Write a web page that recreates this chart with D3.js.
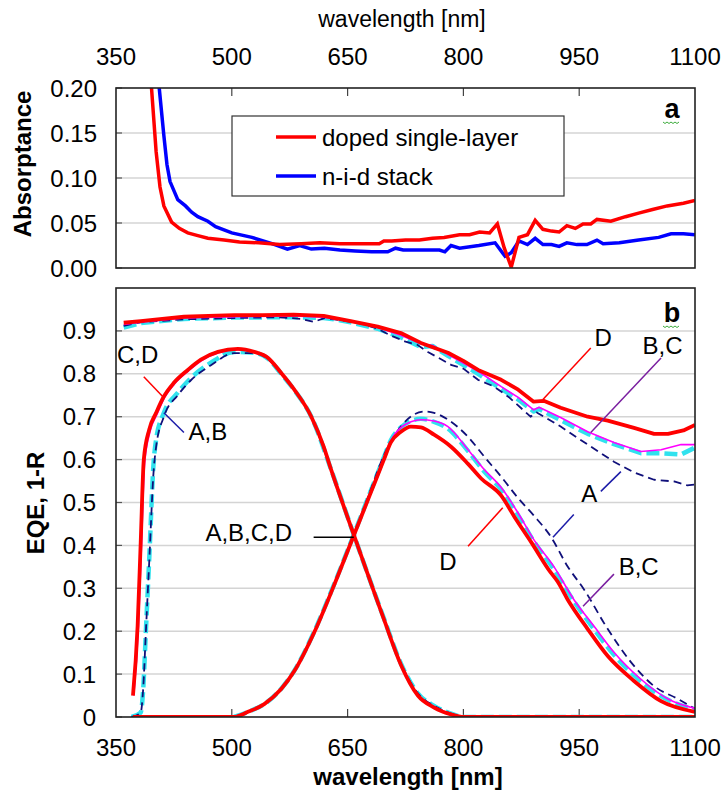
<!DOCTYPE html>
<html>
<head>
<meta charset="utf-8">
<script src="https://cdn.jsdelivr.net/npm/d3@7"></script>
<style>
  body { margin: 0; background: #fff; }
  svg { display: block; font-family: "Liberation Sans", Arial, sans-serif; }
  .tick-lbl { font-size: 24px; fill: #000; }
  .ann { font-size: 24px; fill: #000; }
</style>
</head>
<body>
<svg id="chart" width="723" height="792"></svg>
<script>
// x ticks shared by both panels
const wlTicks = [350, 500, 650, 800, 950, 1100];
const absTicks = [0, 0.05, 0.10, 0.15, 0.20];
const eqeTicks = [0, 0.1, 0.2, 0.3, 0.4, 0.5, 0.6, 0.7, 0.8, 0.9];

// panel a: absorptance [wavelength, value]
const absDoped = [[392,0.26],[396,0.20],[402,0.129],[407,0.09],[412,0.069],[422,0.051],[432,0.044],[443,0.039],[456,0.036],
  [469,0.033],[490,0.031],[510,0.029],[535,0.028],[562,0.026],[590,0.027],[614,0.028],[640,0.027],[660,0.027],[691,0.027],
  [697,0.030],[707,0.030],[725,0.031],[743,0.031],[760,0.033],[775,0.034],[795,0.037],[808,0.037],[821,0.040],[834,0.039],
  [844,0.049],[853,0.022],[862,0.001],[872,0.034],[883,0.037],[893,0.053],[903,0.043],[914,0.041],[924,0.040],[934,0.047],
  [945,0.044],[955,0.049],[965,0.049],[973,0.054],[991,0.052],[1010,0.057],[1027,0.061],[1045,0.065],[1064,0.069],
  [1085,0.072],[1100,0.075]];
const absStack = [[402,0.26],[406,0.20],[412,0.147],[416,0.115],[420,0.096],[430,0.076],[440,0.069],[448,0.062],[456,0.057],
  [469,0.052],[479,0.046],[500,0.039],[526,0.034],[552,0.027],[572,0.021],[588,0.025],[603,0.021],[620,0.022],[640,0.020],
  [660,0.019],[681,0.018],[702,0.018],[712,0.022],[722,0.020],[745,0.020],[769,0.020],[776,0.018],[784,0.025],[795,0.022],
  [820,0.025],[841,0.028],[854,0.013],[862,0.017],[872,0.030],[883,0.026],[893,0.033],[903,0.026],[914,0.026],[924,0.024],
  [934,0.028],[947,0.026],[960,0.026],[973,0.031],[981,0.027],[1002,0.028],[1027,0.031],[1053,0.034],[1069,0.038],
  [1085,0.038],[1100,0.037]];

// panel b: 1-R curves
const refD = [[360,0.919],[382,0.923],[410,0.928],[438,0.933],[470,0.935],[503,0.937],[540,0.937],[580,0.938],[619,0.935],
  [654,0.923],[689,0.91],[719,0.895],[745,0.872],[780,0.849],[800,0.83],[819,0.809],[849,0.786],[871,0.763],[891,0.735],
  [904,0.737],[926,0.721],[961,0.700],[987,0.691],[1021,0.674],[1047,0.660],[1065,0.660],[1085,0.668],[1100,0.681]];
const refC = [[360,0.915],[382,0.92],[438,0.93],[503,0.933],[580,0.935],[619,0.932],[654,0.922],[689,0.908],[719,0.89],
  [745,0.87],[760,0.866],[780,0.845],[819,0.806],[849,0.77],[871,0.745],[891,0.716],[898,0.722],[926,0.698],[961,0.665],
  [995,0.64],[1030,0.619],[1056,0.623],[1082,0.635],[1100,0.635]];
const refB = [[360,0.908],[382,0.918],[438,0.928],[503,0.931],[580,0.932],[619,0.93],[640,0.925],[654,0.92],[689,0.905],
  [719,0.885],[745,0.862],[760,0.865],[780,0.842],[819,0.80],[849,0.765],[871,0.74],[891,0.712],[898,0.718],[926,0.692],
  [961,0.66],[995,0.636],[1030,0.615],[1056,0.615],[1082,0.612],[1100,0.628]];
const refA = [[360,0.912],[382,0.92],[438,0.927],[503,0.93],[560,0.932],[590,0.928],[606,0.921],[620,0.93],[640,0.925],
  [665,0.918],[689,0.905],[705,0.89],[725,0.875],[740,0.868],[754,0.851],[770,0.835],[785,0.82],[800,0.812],[819,0.786],
  [840,0.77],[860,0.744],[887,0.70],[895,0.71],[926,0.677],[961,0.635],[995,0.595],[1021,0.57],[1047,0.553],[1073,0.549],
  [1090,0.54],[1100,0.542]];

// panel b: EQE of top (a-Si) and bottom (uc-Si) cells
const topD = [[372,0.05],[378,0.212],[382,0.407],[386,0.6],[393,0.67],[402,0.709],[412,0.747],[425,0.779],[443,0.809],
  [460,0.833],[482,0.851],[508,0.858],[529,0.851],[547,0.837],[564,0.802],[581,0.763],[603,0.70],[619,0.63],[628,0.58],
  [658,0.425],[697,0.228],[719,0.122],[741,0.05],[762,0.022],[784,0.006],[801,0.0],[1100,0.0]];
const topC = [[373,0.05],[379,0.21],[383,0.40],[387,0.59],[394,0.665],[403,0.705],[413,0.745],[426,0.777],[444,0.807],
  [461,0.831],[483,0.849],[508,0.856],[529,0.85],[547,0.836],[564,0.801],[581,0.762],[603,0.70],[619,0.63],[628,0.58],
  [658,0.424],[697,0.228],[719,0.124],[741,0.052],[762,0.024],[784,0.007],[801,0.0],[1100,0.0]];
const topB = [[370,0],[382,0.01],[385,0.058],[389,0.212],[393,0.367],[399,0.6],[402,0.647],[412,0.709],[430,0.756],
  [447,0.79],[473,0.826],[503,0.851],[529,0.849],[547,0.835],[564,0.80],[581,0.762],[603,0.70],[628,0.58],[658,0.425],
  [697,0.23],[719,0.125],[741,0.055],[762,0.026],[784,0.008],[801,0],[1100,0]];
const topA = [[370,0],[382,0.01],[385,0.06],[389,0.21],[393,0.36],[399,0.58],[402,0.63],[412,0.70],[430,0.75],[447,0.785],
  [473,0.82],[503,0.848],[529,0.848],[547,0.834],[564,0.80],[581,0.762],[603,0.70],[628,0.58],[658,0.425],[697,0.23],
  [719,0.125],[741,0.055],[762,0.026],[784,0.008],[801,0],[1100,0]];

const botD = [[372,0],[503,0.0],[521,0.012],[542,0.03],[564,0.065],[581,0.107],[607,0.198],[632,0.305],[658,0.423],
  [680,0.523],[697,0.60],[706,0.64],[719,0.665],[732,0.677],[745,0.675],[762,0.658],[784,0.63],[806,0.59],[823,0.556],
  [849,0.516],[866,0.467],[888,0.407],[913,0.337],[922,0.316],[935,0.274],[961,0.205],[987,0.142],[1021,0.084],
  [1056,0.037],[1100,0.012]];
const botC = [[503,0],[521,0.012],[542,0.03],[564,0.066],[581,0.108],[607,0.2],[632,0.307],[658,0.425],[680,0.527],
  [697,0.605],[706,0.645],[719,0.675],[732,0.688],[745,0.693],[762,0.69],[780,0.677],[806,0.623],[827,0.577],[849,0.535],
  [871,0.475],[891,0.414],[917,0.351],[943,0.274],[969,0.212],[995,0.151],[1030,0.088],[1065,0.042],[1100,0.02]];
const botB = [[503,0],[521,0.012],[542,0.03],[564,0.066],[581,0.108],[607,0.2],[632,0.307],[658,0.425],[680,0.527],
  [697,0.605],[706,0.645],[719,0.675],[732,0.69],[745,0.695],[762,0.688],[780,0.672],[806,0.62],[827,0.572],[849,0.53],
  [871,0.47],[891,0.41],[917,0.345],[943,0.27],[969,0.205],[995,0.145],[1030,0.083],[1065,0.04],[1100,0.018]];
const botA = [[503,0],[521,0.012],[542,0.03],[564,0.066],[581,0.108],[607,0.2],[632,0.307],[658,0.425],[680,0.53],
  [697,0.61],[719,0.677],[736,0.705],[750,0.712],[762,0.709],[780,0.693],[806,0.653],[827,0.607],[849,0.56],[871,0.51],
  [891,0.47],[913,0.421],[935,0.351],[956,0.298],[987,0.205],[1017,0.128],[1047,0.072],[1078,0.042],[1100,0.019]];

// annotations: label, text position, leader lines (data coords)
const labels = [
  { text: 'C,D', at: [378, 0.844], lines: [[[386, 0.793], [412, 0.744]]], color: '#ff0000' },
  { text: 'A,B', at: [469, 0.665], lines: [[[412, 0.709], [438, 0.663]]], color: '#1c1ca8' },
  { text: 'A,B,C,D', at: [522, 0.43], lines: [[[606, 0.419], [658, 0.419]]], color: '#000000' },
  { text: 'D', at: [981, 0.884], lines: [[[965, 0.86], [903, 0.74]]], color: '#ff0000' },
  { text: 'B,C', at: [1058, 0.867], lines: [[[1056, 0.837], [965, 0.663]]], color: '#7a1fa0' },
  { text: 'A', at: [963, 0.521], lines: [[[978, 0.526], [1004, 0.572]], [[943, 0.472], [916, 0.419]]], color: '#1c1ca8' },
  { text: 'D', at: [780, 0.363], lines: [[[806, 0.398], [851, 0.488]]], color: '#ff0000' },
  { text: 'B,C', at: [1027, 0.351], lines: [[[995, 0.333], [955, 0.258]]], color: '#7a1fa0' },
];

const svg = d3.select('#chart');
const L = 116, R = 695;
const x = d3.scaleLinear().domain([350, 1100]).range([L, R]);
const yA = d3.scaleLinear().domain([0, 0.2]).range([268, 88]);
const yB = d3.scaleLinear().domain([0, 1]).range([717, 288]);

function panel(y, ticks, id) {
  const [y0, y1] = y.range();
  svg.append('clipPath').attr('id', id).append('rect')
    .attr('x', L).attr('y', y1).attr('width', R - L).attr('height', y0 - y1);
  const g = svg.append('g');
  g.selectAll('.grid').data(ticks.filter(t => t > 0 && y(t) > y1 + 1)).join('line')
    .attr('x1', L).attr('x2', R).attr('y1', d => y(d)).attr('y2', d => y(d))
    .attr('stroke', '#d4d4d4').attr('stroke-width', 1.5);
  g.selectAll('.ytk').data(ticks).join('line')
    .attr('x1', L).attr('x2', L + 6).attr('y1', d => y(d)).attr('y2', d => y(d))
    .attr('stroke', '#555').attr('stroke-width', 1.2);
  return g;
}

const gA = panel(yA, absTicks, 'clipA');
const gB = panel(yB, eqeTicks, 'clipB');

// inner x ticks
gA.selectAll('.xt').data(wlTicks.slice(1, -1)).join('line')
  .attr('x1', d => x(d)).attr('x2', d => x(d)).attr('y1', 88).attr('y2', 96)
  .attr('stroke', '#444').attr('stroke-width', 1.2);
gB.selectAll('.xt').data(wlTicks.slice(1, -1)).join('line')
  .attr('x1', d => x(d)).attr('x2', d => x(d)).attr('y1', 717).attr('y2', 709)
  .attr('stroke', '#444').attr('stroke-width', 1.2);

const lineA = d3.line().x(d => x(d[0])).y(d => yA(d[1]));
const lineB = d3.line().x(d => x(d[0])).y(d => yB(d[1]));
const smoothB = d3.line().x(d => x(d[0])).y(d => yB(d[1])).curve(d3.curveMonotoneX);

const pa = svg.append('g').attr('clip-path', 'url(#clipA)');
pa.append('path').attr('d', lineA(absStack)).attr('fill', 'none').attr('stroke', '#0000ff').attr('stroke-width', 3.5);
pa.append('path').attr('d', lineA(absDoped)).attr('fill', 'none').attr('stroke', '#ff0000').attr('stroke-width', 3.5);

const styles = {
  B: { stroke: '#30e2ee', w: 4.5, dash: '13,5' },
  A: { stroke: '#10107a', w: 1.8, dash: '8,5' },
  C: { stroke: '#ff00ff', w: 1.6, dash: null },
  D: { stroke: '#ff0000', w: 3.8, dash: null },
};
// [style, data, smooth]
const series = [
  ['B', refB, false], ['B', topB, true], ['B', botB, true],
  ['A', refA, false], ['A', topA, true], ['A', botA, true],
  ['C', refC, false], ['C', topC, true], ['C', botC, true],
  ['D', refD, false], ['D', topD, true], ['D', botD, true],
];
const pb = svg.append('g').attr('clip-path', 'url(#clipB)');
series.forEach(([k, data, smooth]) => {
  const s = styles[k];
  pb.append('path').attr('d', (smooth ? smoothB : lineB)(data)).attr('fill', 'none')
    .attr('stroke', s.stroke).attr('stroke-width', s.w)
    .attr('stroke-dasharray', s.dash).attr('stroke-linejoin', 'round');
});

// frames
[[88, 268], [288, 717]].forEach(([t, b]) => {
  svg.append('rect').attr('x', L).attr('y', t).attr('width', R - L).attr('height', b - t)
    .attr('fill', 'none').attr('stroke', '#222').attr('stroke-width', 1.6);
});

// tick labels
svg.selectAll('.xtop').data(wlTicks).join('text').attr('class', 'tick-lbl')
  .attr('x', d => x(d)).attr('y', 65).attr('text-anchor', 'middle').text(d => d);
svg.selectAll('.xbot').data(wlTicks).join('text').attr('class', 'tick-lbl')
  .attr('x', d => x(d)).attr('y', 756).attr('text-anchor', 'middle').text(d => d);
svg.selectAll('.ya').data(absTicks).join('text').attr('class', 'tick-lbl')
  .attr('x', 97).attr('y', d => yA(d) + 8.5).attr('text-anchor', 'end').text(d => d.toFixed(2));
svg.selectAll('.yb').data(eqeTicks).join('text').attr('class', 'tick-lbl')
  .attr('x', 96).attr('y', d => yB(d) + 8.5).attr('text-anchor', 'end').text(d => d === 0 ? '0' : d.toFixed(1));

// axis titles
svg.append('text').attr('x', 402).attr('y', 27).attr('text-anchor', 'middle')
  .style('font-size', '23px').text('wavelength [nm]');
svg.append('text').attr('x', 408).attr('y', 785).attr('text-anchor', 'middle')
  .style('font-size', '24px').style('font-weight', 'bold').text('wavelength [nm]');
svg.append('text').attr('transform', 'translate(31,164) rotate(-90)').attr('text-anchor', 'middle')
  .style('font-size', '24px').style('font-weight', 'bold').text('Absorptance');
svg.append('text').attr('transform', 'translate(44,503) rotate(-90)').attr('text-anchor', 'middle')
  .style('font-size', '24px').style('font-weight', 'bold').text('EQE, 1-R');

// panel letters with squiggle
[['a', 118], ['b', 322]].forEach(([t, by]) => {
  svg.append('text').attr('x', 672).attr('y', by).attr('text-anchor', 'middle')
    .style('font-size', '27px').style('font-weight', 'bold').text(t);
  const pts = d3.range(0, 9).map(i => [663 + i * 2, by + 4 + (i % 2 ? 1.5 : 0)]);
  svg.append('path').attr('d', d3.line()(pts)).attr('fill', 'none')
    .attr('stroke', '#3cab3c').attr('stroke-width', 1);
});

// legend
const leg = svg.append('g');
leg.append('rect').attr('x', 232).attr('y', 116).attr('width', 332).attr('height', 80)
  .attr('fill', '#fff').attr('stroke', '#333').attr('stroke-width', 1.2);
[['doped single-layer', '#ff0000', 137], ['n-i-d stack', '#0000ff', 176]].forEach(([t, c, ly]) => {
  leg.append('line').attr('x1', 276).attr('x2', 316).attr('y1', ly).attr('y2', ly)
    .attr('stroke', c).attr('stroke-width', 3.5);
  leg.append('text').attr('class', 'ann').attr('x', 322).attr('y', ly + 8.5).text(t);
});

// annotations
labels.forEach(l => {
  l.lines.forEach(seg => {
    svg.append('line').attr('x1', x(seg[0][0])).attr('y1', yB(seg[0][1]))
      .attr('x2', x(seg[1][0])).attr('y2', yB(seg[1][1]))
      .attr('stroke', l.color).attr('stroke-width', 1.5);
  });
  svg.append('text').attr('class', 'ann').attr('x', x(l.at[0])).attr('y', yB(l.at[1]) + 8.5)
    .attr('text-anchor', 'middle').text(l.text);
});
</script>
</body>
</html>
